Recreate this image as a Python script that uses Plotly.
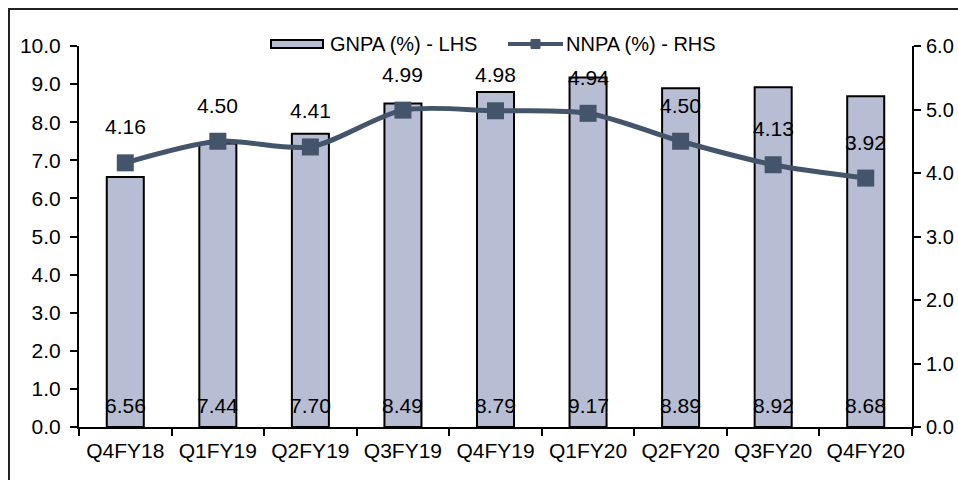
import plotly.graph_objects as go

categories = ["Q4FY18", "Q1FY19", "Q2FY19", "Q3FY19", "Q4FY19", "Q1FY20", "Q2FY20", "Q3FY20", "Q4FY20"]
gnpa = [6.56, 7.44, 7.70, 8.49, 8.79, 9.17, 8.89, 8.92, 8.68]
nnpa = [4.16, 4.50, 4.41, 4.99, 4.98, 4.94, 4.50, 4.13, 3.92]
gnpa_name = "GNPA (%) - LHS"
nnpa_name = "NNPA (%) - RHS"

BAR_COLOR = "#b7bdd2"
LINE_COLOR = "#44546a"
FONT = "Liberation Sans, Arial, sans-serif"
FS = 21
LFS = 20

W, H = 958, 480
ML, MR, MT, MB = 79, 46, 46, 53
PW, PH = W - ML - MR, H - MT - MB

def px(x):
    return (x - ML) / PW

def py(y):
    return (H - MB - y) / PH

fig = go.Figure()
fig.add_trace(go.Bar(
    x=categories, y=gnpa, name=gnpa_name, width=0.4,
    marker=dict(color=BAR_COLOR, line=dict(color="black", width=2)),
    yaxis="y", showlegend=False,
))
fig.add_trace(go.Scatter(
    x=categories, y=nnpa, name=nnpa_name, mode="lines+markers",
    line=dict(color=LINE_COLOR, width=5, shape="spline", smoothing=0.8),
    marker=dict(symbol="square", size=17, color=LINE_COLOR),
    yaxis="y2", showlegend=False,
))

annotations = []
for c, v in zip(categories, gnpa):
    annotations.append(dict(x=c, y=0, xref="x", yref="y", text=f"{v:.2f}",
                            showarrow=False, yshift=22,
                            font=dict(family=FONT, size=FS, color="black")))
for c, v in zip(categories, nnpa):
    annotations.append(dict(x=c, y=v, xref="x", yref="y2", text=f"{v:.2f}",
                            showarrow=False, yshift=36,
                            font=dict(family=FONT, size=FS, color="black")))

# custom legend
annotations.append(dict(x=px(328), y=py(44), xref="paper", yref="paper", text=gnpa_name,
                        xanchor="left", yanchor="middle", showarrow=False,
                        font=dict(family=FONT, size=LFS, color="black")))
annotations.append(dict(x=px(564), y=py(44), xref="paper", yref="paper", text=nnpa_name,
                        xanchor="left", yanchor="middle", showarrow=False,
                        font=dict(family=FONT, size=LFS, color="black")))

shapes = [
    # outer frame
    dict(type="rect", xref="paper", yref="paper", x0=px(9), x1=px(975), y0=py(495), y1=py(9),
         line=dict(color="#222222", width=2), fillcolor="rgba(0,0,0,0)", layer="above"),
    # legend swatches
    dict(type="rect", xref="paper", yref="paper", x0=px(271), x1=px(323), y0=py(48), y1=py(40),
         line=dict(color="black", width=2), fillcolor=BAR_COLOR),
    dict(type="line", xref="paper", yref="paper", x0=px(508), x1=px(563), y0=py(44), y1=py(44),
         line=dict(color=LINE_COLOR, width=4)),
    dict(type="rect", xref="paper", yref="paper", x0=px(531), x1=px(540), y0=py(48.5), y1=py(39.5),
         line=dict(color=LINE_COLOR, width=1), fillcolor=LINE_COLOR),
]

axis_common = dict(showgrid=False, zeroline=False, linecolor="black", linewidth=2,
                   tickcolor="black", tickwidth=2, ticklen=7, automargin=False)
tickfont = dict(family=FONT, size=FS, color="black")

fig.update_layout(
    width=W, height=H,
    margin=dict(l=ML, r=MR, t=MT, b=MB, pad=0, autoexpand=False),
    paper_bgcolor="white", plot_bgcolor="rgba(0,0,0,0)",
    font=dict(family=FONT, size=FS, color="black"),
    bargap=0.6,
    xaxis=dict(type="category", categoryarray=categories, range=[-0.5, len(categories) - 0.5],
               showline=True, ticks="outside", tickson="boundaries", tickfont=tickfont,
               ticklabelstandoff=4, **axis_common),
    yaxis=dict(range=[0, 10], dtick=1, tickformat=".1f", showline=True, ticks="outside",
               tickfont=tickfont, ticklabelstandoff=5, **axis_common),
    yaxis2=dict(range=[0, 6], dtick=1, tickformat=".1f", overlaying="y", side="right",
                showline=True, ticks="outside", anchor="x",
                tickfont=dict(family=FONT, size=20, color="black"),
                ticklabelstandoff=1, **axis_common),
    # duplicate axes to draw the inner half of the cross tick marks
    xaxis3=dict(range=[-0.5, len(categories) - 0.5], tick0=-0.5, dtick=1, overlaying="x",
                anchor="y", side="bottom", showline=False, ticks="inside", showticklabels=False,
                **axis_common),
    yaxis3=dict(range=[0, 10], dtick=1, overlaying="y", side="left", anchor="x",
                showline=False, ticks="inside", showticklabels=False, **axis_common),
    yaxis4=dict(range=[0, 6], dtick=1, overlaying="y", side="right", anchor="x",
                showline=False, ticks="inside", showticklabels=False, **axis_common),
    annotations=annotations,
    shapes=shapes,
)

fig.write_html("out.html", config={"displayModeBar": False},
               post_script="document.body.style.margin='0';document.body.style.overflow='hidden';")
